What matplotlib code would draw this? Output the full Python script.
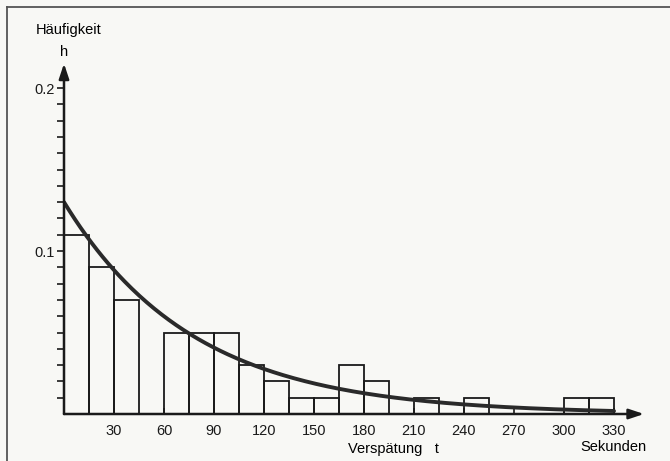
import matplotlib.pyplot as plt
import numpy as np
from matplotlib.lines import Line2D

plt.rcParams['font.family'] = ['Liberation Sans', 'DejaVu Sans']

# class starts (seconds), class width 15 s
bin_starts = [0, 15, 30, 45, 60, 75, 90, 105, 120, 135, 150, 165,
              180, 195, 210, 225, 240, 255, 270, 285, 300, 315]
bin_width = 15
freq = [0.11, 0.09, 0.07, 0.0, 0.05, 0.05, 0.05, 0.03, 0.02, 0.01, 0.01, 0.03,
        0.02, 0.0, 0.01, 0.0, 0.01, 0.0, 0.0, 0.0, 0.01, 0.01]

# exponential model curve: h(t) = h0 * exp(-rate * t)
h0 = 0.13
rate = 0.0129
t_end = 330

x_ticks = [30, 60, 90, 120, 150, 180, 210, 240, 270, 300, 330]
y_labels = [0.1, 0.2]

W, H = 670, 461
fig = plt.figure(figsize=(W / 100, H / 100), dpi=100)
bg = '#f8f8f5'
fig.patch.set_facecolor(bg)

# axes: origin at pixel (64, 414), 1.667 px per second, 1630 px per unit h
x0, y0 = 64, 414
xmax, ymax = 350, 0.225
ax = fig.add_axes([x0 / W, (H - y0) / H, xmax * 50 / 30 / W, ymax * 1630 / H])
ax.set_xlim(0, xmax)
ax.set_ylim(0, ymax)
ax.set_facecolor('none')
for s in ax.spines.values():
    s.set_visible(False)

ax.bar(bin_starts, freq, width=bin_width, align='edge', facecolor='none',
       edgecolor='#1a1a1a', linewidth=1.3, zorder=2)

t = np.linspace(0, t_end, 300)
ax.plot(t, h0 * np.exp(-rate * t), color='#2a2a2a', linewidth=2.8,
        solid_capstyle='round', zorder=3)

# axes with arrow heads
ax.annotate('', xy=(348, 0), xytext=(0, 0),
            arrowprops=dict(arrowstyle='-|>,head_length=0.9,head_width=0.3',
                            color='#1a1a1a', lw=1.8, shrinkA=0, shrinkB=0),
            annotation_clip=False, zorder=4)
ax.annotate('', xy=(0, 0.215), xytext=(0, 0),
            arrowprops=dict(arrowstyle='-|>,head_length=0.9,head_width=0.3',
                            color='#1a1a1a', lw=1.8, shrinkA=0, shrinkB=0),
            annotation_clip=False, zorder=4)

ax.set_xticks(x_ticks)
ax.set_xticklabels([str(v) for v in x_ticks])
ax.tick_params(axis='x', direction='in', length=4, width=1.2, pad=7,
               labelsize=10.5, colors='#1a1a1a')
ax.set_yticks(np.round(np.arange(0.01, 0.205, 0.01), 2))
ax.set_yticklabels(['' if round(v, 2) not in y_labels else str(round(v, 2))
                    for v in np.arange(0.01, 0.205, 0.01)])
ax.tick_params(axis='y', direction='out', length=5, width=1.2, pad=2,
               labelsize=10.5, colors='#1a1a1a')

fig.text(x0 / W, 1 - 52 / H, 'h', ha='center', va='center', fontsize=10.5)
fig.text(36 / W, 1 - 30 / H, 'Häufigkeit', ha='left', va='center', fontsize=10.5)
fig.text(348 / W, 1 - 449 / H, 'Verspätung   t', ha='left', va='center', fontsize=10.5)
fig.text(580 / W, 1 - 447 / H, 'Sekunden', ha='left', va='center', fontsize=10.5)

# frame lines of the scanned figure (top and left only)
fig.add_artist(Line2D([7 / W, 1], [1 - 7 / H, 1 - 7 / H], color='#555555', lw=1.3))
fig.add_artist(Line2D([7 / W, 7 / W], [0, 1 - 7 / H], color='#555555', lw=1.3))

fig.savefig('out.png', dpi=100, facecolor=bg)
